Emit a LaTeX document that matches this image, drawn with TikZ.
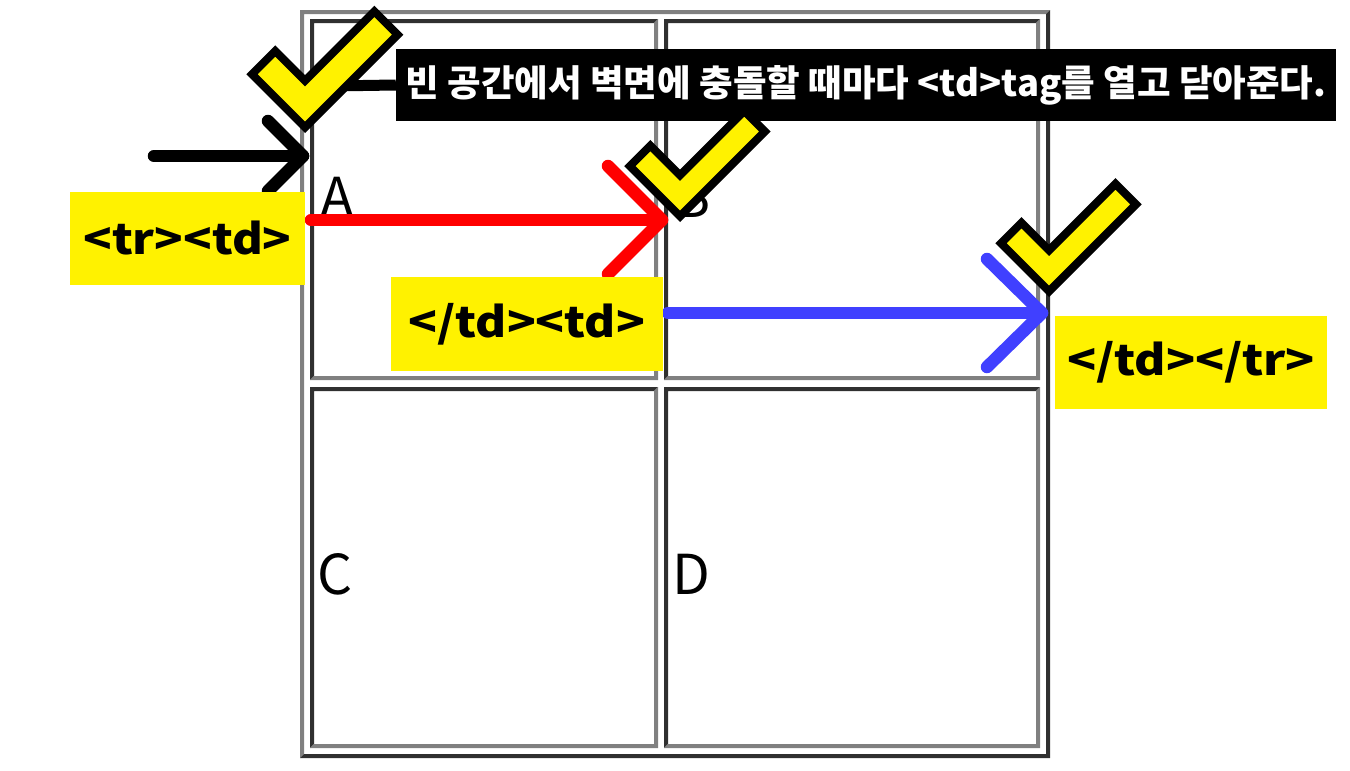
\documentclass[tikz,border=0pt]{standalone}
\usepackage{graphicx}
\usepackage{fontspec}
\newfontfamily\kr{Noto Sans CJK KR}
\definecolor{chky}{RGB}{255,242,0}
\definecolor{bgray}{RGB}{128,128,128}
\definecolor{bdark}{RGB}{48,48,48}
\definecolor{ablue}{RGB}{64,64,255}
\tikzset{
  chkstyle/.style={fill=chky, draw=black, line width=8pt, line join=miter},
  arr/.style={line width=12.5pt, line cap=round, line join=round},
  lbl/.style={fill=chky, inner sep=0pt, font=\kr\bfseries\fontsize{42}{46}\selectfont, text=black},
  cellletter/.style={inner sep=0pt, anchor=base west, font=\kr\fontsize{55}{60}\selectfont},
  banner/.style={fill=black, text=white, inner sep=0pt, font=\kr\bfseries\fontsize{36.5}{40}\selectfont}
}
% bevelled border: x0 y0 x1 y1 topleft-colour bottomright-colour
\newcommand\bevelbox[6]{%
  \fill[#5] (#1,#2) -- (#3,#2) -- ({#3-4},{#2+4}) -- ({#1+4},{#2+4}) -- ({#1+4},{#4-4}) -- (#1,#4) -- cycle;
  \fill[#6] (#3,#2) -- (#3,#4) -- (#1,#4) -- ({#1+4},{#4-4}) -- ({#3-4},{#4-4}) -- ({#3-4},{#2+4}) -- cycle;
}
% check mark: corner x, corner y, L1, L2, w
\newcommand\chkmark[5]{%
  \begin{scope}[shift={(#1,#2)}, x={(-0.7071pt,0.7071pt)}, y={(0.7071pt,0.7071pt)}]
    \filldraw[chkstyle] (4,4) -- ({#3-4},4) -- ({#3-4},{#5-4}) -- ({#5-4},{#5-4}) -- ({#5-4},{#4-4}) -- (4,{#4-4}) -- cycle;
  \end{scope}}
\begin{document}
\begin{tikzpicture}[x=1pt, y=-1pt]
\useasboundingbox (0,0) rectangle (1350,771);
% table
\bevelbox{300}{10}{1050}{758}{bgray}{bdark}
\bevelbox{310}{19}{658}{380}{bdark}{bgray}
\bevelbox{664}{19}{1040}{380}{bdark}{bgray}
\bevelbox{310}{387}{658}{748}{bdark}{bgray}
\bevelbox{664}{387}{1040}{748}{bdark}{bgray}
% cell letters
\node[cellletter] (ta) at (320,217) {A};
\node[cellletter] (tb) at (674,217) {B};
\node[cellletter] (tc) at (317,594) {C};
\node[cellletter] (td) at (672,594) {D};
% arrows
\coordinate (k0) at (154,156);
\coordinate (k1) at (303,156);
\coordinate (k2) at (268,121);
\coordinate (k3) at (268,191);
\draw[arr, black] (k0) -- (k1);
\draw[arr, black] (k2) -- (k1) -- (k3);
\coordinate (r0) at (311,220);
\coordinate (r1) at (662,220);
\coordinate (r2) at (608,166);
\coordinate (r3) at (608,274);
\draw[arr, red] (r0) -- (r1);
\draw[arr, red] (r2) -- (r1) -- (r3);
\coordinate (b0) at (668,313);
\coordinate (b1) at (1042,313);
\coordinate (b2) at (987,259);
\coordinate (b3) at (987,367);
\draw[arr, ablue] (b0) -- (b1);
\draw[arr, ablue] (b2) -- (b1) -- (b3);
% labels
\node[lbl, minimum width=235pt, minimum height=93pt] (l1) at (187.5,238.5) {\scalebox{1.12}[1]{<tr><td>}};
\node[lbl, minimum width=272pt, minimum height=94pt] (l2) at (527,324) {\scalebox{1.13}[1]{</td><td>}};
\node[lbl, minimum width=272pt, minimum height=93pt] (l3) at (1191,362.5) {\scalebox{1.14}[1]{</td></tr>}};
% banner
\coordinate (c1) at (330,86);
\node[banner, minimum width=940pt, minimum height=72pt] (bn) at (866,85) {빈 공간에서 벽면에 충돌할 때마다 <td>tag를 열고 닫아준다.};
\draw[line width=11pt, black] (c1) -- (bn.west);
% checks
\chkmark{305}{133}{83}{139}{41}
\chkmark{680}{222}{79}{128}{37}
\chkmark{1049}{297}{76}{131}{37}
\end{tikzpicture}
\end{document}
